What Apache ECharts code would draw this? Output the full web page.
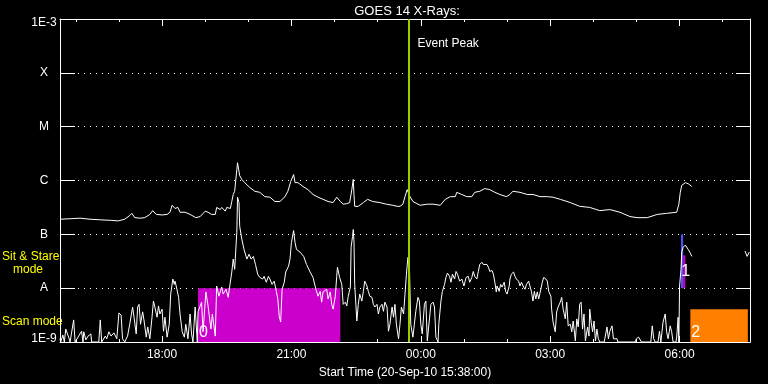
<!DOCTYPE html>
<html><head><meta charset="utf-8">
<script src="https://cdn.jsdelivr.net/npm/echarts@6/dist/echarts.min.js"></script>
<style>html,body{margin:0;padding:0;background:#000}#c{width:768px;height:384px}</style>
</head><body><div id="c"></div>
<script>
// time = minutes since 2010-09-20 00:00 ; value = log10(flux W/m^2)
const axisStart = 938;   // 15:38
const axisEnd = 1898;    // 07:38 next day
const hourTicks = [960,1020,1080,1140,1200,1260,1320,1380,1440,1500,1560,1620,1680,1740,1800,1860];
const majorTicks = [1080,1260,1440,1620,1800];
const classLevels = {'-3':'1E-3','-4':'X','-5':'M','-6':'C','-7':'B','-8':'A','-9':'1E-9'};
const eventPeakTime = 1423.5;

const longTimes = [938,952,966,980,994,1008,1019,1028,1035,1038,1042,1049,1056,1063,1067,1072,1080,1087,1091,1094,1095,1098,1102,1105,1112,1119,1127,1133,1140,1144,1149,1154,1156,1161,1163,1168,1170,1175,1177,1179,1181,1184,1185,1186,1188,1191,1195,1202,1209,1216,1223,1230,1237,1244,1251,1255,1259,1263,1265,1269,1276,1283,1290,1297,1304,1311,1318,1323,1328,1332,1337,1341,1344,1346,1347,1348,1353,1360,1366,1373,1383,1392,1401,1407,1411,1415,1418,1421,1422,1425,1429,1439,1449,1457,1467,1474,1481,1488,1490,1497,1504,1511,1515,1522,1529,1536,1543,1550,1559,1564,1568,1578,1588,1596,1606,1616,1624,1634,1648,1661,1675,1689,1703,1717,1731,1741,1755,1769,1782,1796,1799,1801,1803,1808,1812,1817];
const longLog = [-6.72,-6.71,-6.70,-6.72,-6.73,-6.74,-6.75,-6.72,-6.65,-6.61,-6.69,-6.70,-6.69,-6.63,-6.56,-6.63,-6.64,-6.63,-6.59,-6.46,-6.43,-6.52,-6.50,-6.59,-6.59,-6.63,-6.69,-6.67,-6.57,-6.59,-6.63,-6.63,-6.50,-6.54,-6.50,-6.57,-6.50,-6.52,-6.39,-6.26,-6.20,-5.80,-5.67,-5.70,-5.91,-5.98,-6.04,-6.13,-6.20,-6.22,-6.30,-6.31,-6.39,-6.39,-6.30,-6.20,-6.02,-5.89,-6.04,-6.04,-6.11,-6.17,-6.26,-6.31,-6.35,-6.39,-6.41,-6.31,-6.39,-6.44,-6.43,-6.41,-6.17,-5.98,-6.26,-6.48,-6.48,-6.41,-6.35,-6.39,-6.41,-6.44,-6.46,-6.48,-6.48,-6.44,-6.30,-6.17,-6.20,-6.30,-6.39,-6.46,-6.44,-6.44,-6.46,-6.35,-6.30,-6.30,-6.22,-6.26,-6.30,-6.30,-6.22,-6.20,-6.15,-6.17,-6.22,-6.26,-6.30,-6.26,-6.20,-6.22,-6.26,-6.26,-6.30,-6.30,-6.31,-6.35,-6.41,-6.48,-6.50,-6.56,-6.54,-6.59,-6.67,-6.69,-6.69,-6.63,-6.61,-6.59,-6.44,-6.22,-6.09,-6.04,-6.06,-6.11];

const shortChannel = [[938,-8.94],[939,-9],[942,-8.87],[944,-9],[946,-8.76],[948,-8.76],[950,-8.91],[952,-9],[957,-8.59],[959,-9],[968,-8.80],[970,-9],[971,-8.81],[974,-8.96],[977,-8.89],[981,-8.85],[982,-9],[992,-9],[994,-8.59],[996,-9],[1001,-8.89],[1003,-8.94],[1006,-8.81],[1009,-8.89],[1013,-8.83],[1017,-8.94],[1020,-8.46],[1023,-8.50],[1025,-8.94],[1028,-9],[1032,-8.89],[1035,-8.67],[1039,-8.35],[1041,-8.54],[1044,-8.85],[1046,-8.35],[1048,-8.30],[1050,-8.67],[1053,-8.44],[1055,-8.61],[1058,-8.91],[1060,-8.72],[1063,-8.94],[1066,-8.54],[1068,-8.24],[1070,-8.35],[1073,-8.54],[1075,-8.33],[1077,-8.48],[1080,-8.39],[1082,-8.80],[1084,-8.54],[1087,-8.91],[1090,-8.67],[1092,-8.11],[1095,-7.83],[1097,-7.93],[1098,-7.87],[1100,-7.98],[1103,-8.17],[1105,-8.48],[1108,-8.81],[1111,-8.91],[1113,-8.67],[1116,-8.94],[1119,-8.48],[1121,-8.85],[1123,-9],[1126,-8.35],[1129,-9],[1130,-8.44],[1135,-8.26],[1137,-8.81],[1141,-8.07],[1144,-8.33],[1148,-8.76],[1150,-8.48],[1154,-8.89],[1156,-7.96],[1159,-8.15],[1163,-7.98],[1165,-8.11],[1169,-8.02],[1172,-8.17],[1174,-7.98],[1177,-7.70],[1179,-7.46],[1181,-7.65],[1184,-6.96],[1185,-6.31],[1187,-6.41],[1188,-6.85],[1191,-7.09],[1194,-7.28],[1198,-7.46],[1201,-7.37],[1204,-7.46],[1207,-7.41],[1210,-7.56],[1213,-7.74],[1216,-7.80],[1220,-7.83],[1222,-7.78],[1225,-7.89],[1228,-7.78],[1230,-7.83],[1233,-7.93],[1236,-7.87],[1239,-8.06],[1241,-8.20],[1243,-8.52],[1245,-8.63],[1247,-8.02],[1250,-7.89],[1252,-7.70],[1256,-7.59],[1258,-7.46],[1260,-7.15],[1263,-6.93],[1265,-7.15],[1267,-7.28],[1272,-7.33],[1277,-7.41],[1281,-7.56],[1286,-7.70],[1290,-7.80],[1294,-8.02],[1297,-8.15],[1300,-8.06],[1302,-8.26],[1304,-8.07],[1309,-8.02],[1311,-8.20],[1314,-8.07],[1316,-8.30],[1318,-8.39],[1321,-8.15],[1323,-7.78],[1324,-7.61],[1327,-7.80],[1330,-7.93],[1332,-8.30],[1335,-8.26],[1337,-8.33],[1339,-8.15],[1342,-7.98],[1343,-7.24],[1345,-7.04],[1346,-6.91],[1347,-7.13],[1348,-7.93],[1351,-8.61],[1353,-8.30],[1355,-8.11],[1358,-8.24],[1360,-8.06],[1362,-7.87],[1365,-7.96],[1367,-8.06],[1369,-8.15],[1372,-8.17],[1374,-8.30],[1376,-8.35],[1379,-8.30],[1381,-8.48],[1383,-8.35],[1386,-8.30],[1388,-8.43],[1390,-8.26],[1393,-8.35],[1395,-8.80],[1397,-8.67],[1400,-8.35],[1402,-8.54],[1404,-8.30],[1406,-8.67],[1409,-8.94],[1411,-8.67],[1413,-8.35],[1416,-8.48],[1418,-8.11],[1420,-7.74],[1422,-7.43],[1424,-7.50],[1426,-8.67],[1429,-8.91],[1431,-8.67],[1433,-8.43],[1436,-8.17],[1438,-8.24],[1440,-8.67],[1442,-8.85],[1445,-8.30],[1447,-8.24],[1449,-8.98],[1451,-9],[1454,-8.30],[1457,-8.26],[1459,-8.35],[1461,-8.91],[1464,-9],[1465,-8.67],[1468,-8.24],[1470,-8.06],[1473,-7.93],[1475,-7.80],[1477,-7.72],[1480,-7.78],[1482,-7.89],[1484,-7.74],[1487,-7.83],[1489,-7.69],[1491,-7.74],[1494,-7.87],[1497,-7.83],[1500,-7.96],[1503,-7.80],[1506,-7.78],[1508,-7.89],[1511,-7.80],[1513,-7.69],[1515,-7.78],[1518,-7.83],[1520,-7.69],[1522,-7.56],[1525,-7.52],[1527,-7.56],[1532,-7.56],[1534,-7.61],[1536,-7.69],[1539,-7.67],[1541,-7.74],[1543,-7.89],[1545,-8.07],[1546,-7.96],[1549,-8.06],[1551,-7.93],[1553,-7.98],[1556,-7.89],[1558,-8.06],[1560,-8.11],[1563,-7.96],[1564,-7.83],[1566,-7.74],[1569,-7.70],[1571,-7.78],[1573,-7.83],[1576,-7.87],[1578,-7.96],[1580,-7.89],[1583,-7.98],[1585,-8.02],[1587,-7.93],[1590,-7.87],[1592,-7.89],[1594,-8.07],[1596,-8.24],[1598,-8.06],[1600,-8.20],[1602,-8.07],[1604,-8.20],[1607,-8.02],[1609,-7.89],[1611,-7.80],[1614,-7.83],[1616,-7.87],[1618,-8.06],[1621,-8.15],[1622,-8.39],[1624,-8.63],[1627,-8.81],[1629,-8.44],[1631,-8.35],[1634,-8.26],[1636,-8.17],[1638,-8.39],[1641,-8.57],[1643,-8.26],[1645,-8.70],[1648,-8.67],[1650,-8.81],[1652,-8.61],[1655,-8.98],[1657,-8.57],[1659,-8.72],[1661,-8.30],[1663,-8.26],[1665,-8.76],[1667,-8.48],[1669,-8.98],[1672,-8.72],[1674,-8.89],[1675,-8.39],[1677,-8.63],[1679,-8.81],[1681,-8.61],[1683,-8.98],[1685,-8.76],[1687,-8.94],[1689,-9],[1695,-9],[1696,-8.94],[1699,-8.72],[1701,-8.94],[1703,-8.80],[1706,-8.70],[1708,-8.94],[1710,-8.91],[1713,-8.94],[1714,-9],[1738,-9],[1740,-8.94],[1743,-8.91],[1745,-8.94],[1747,-9],[1760,-9],[1762,-8.70],[1764,-8.94],[1766,-9],[1770,-9],[1772,-8.80],[1774,-9],[1776,-9],[1777,-8.63],[1780,-8.48],[1782,-8.81],[1784,-8.94],[1787,-8.70],[1789,-8.81],[1791,-9],[1795,-9],[1796,-8.91],[1798,-8.54],[1799,-9],[1800,-7.96],[1802,-7.65],[1803,-7.33],[1805,-7.24],[1808,-7.20],[1810,-7.22],[1812,-7.28],[1815,-7.35],[1817,-7.41],[1850,'-'],[1891,-7.31],[1894,-7.41],[1897,-7.33]];

// observation windows (start, end, low, high, label)
const winStart = [1130, 1802, 1805, 1815];
const winEnd   = [1328, 1805, 1808, 1895];
const winLow   = [-9, -8, -8, -9];
const winHigh  = [-8, -7, -7.39, -8.39];
const winLabel = ['0', '', '1', '2'];
const winColor = ['#cc00cc', '#5050ff', '#cc00cc', '#ff8000'];
const winLabelOffset = [[0,0],[0,0],[-3,-8],[0,0]];

const FONT = 'Liberation Sans';
const longData = longTimes.map((t, i) => [t, longLog[i]]);
function hhmm(v){ const h = Math.floor(v/60)%24, m = Math.round(v%60); return String(h).padStart(2,'0')+':'+String(m).padStart(2,'0'); }

const areas = winStart.map((s, i) => [
  { xAxis: s, yAxis: winLow[i], itemStyle: { color: winColor[i], opacity: 1 },
    label: { show: winLabel[i] !== '', formatter: winLabel[i], position: 'insideBottomLeft', distance: 1,
             offset: winLabelOffset[i], color: '#fff', fontSize: 16, fontFamily: FONT } },
  { xAxis: winEnd[i], yAxis: winHigh[i] }
]);

const chart = echarts.init(document.getElementById('c'), null, { renderer: 'canvas' });
const white = '#ffffff';
const baseX = { type: 'value', min: axisStart, max: axisEnd, gridIndex: 0, offset: 0, splitLine: { show: false } };
chart.setOption({
  backgroundColor: '#000',
  animation: false,
  title: { text: 'GOES 14 X-Rays:', left: 402, top: 0, textAlign: 'center',
           textStyle: { color: white, fontSize: 13, fontWeight: 'normal', fontFamily: FONT } },
  grid: { left: 60, right: 18, top: 19, bottom: 41, containLabel: false },
  xAxis: [
    Object.assign({}, baseX, { position: 'bottom',
      name: 'Start Time (20-Sep-10 15:38:00)', nameLocation: 'middle', nameGap: 25,
      nameTextStyle: { color: white, fontSize: 12, fontFamily: FONT },
      axisLine: { show: true, lineStyle: { color: white, width: 1 } },
      axisTick: { show: true, inside: true, length: 6, customValues: majorTicks, lineStyle: { color: white } },
      axisLabel: { show: true, customValues: majorTicks, formatter: hhmm, color: white, fontSize: 12, fontFamily: FONT, margin: 7 } }),
    Object.assign({}, baseX, { position: 'bottom',
      axisLine: { show: false },
      axisTick: { show: true, inside: true, length: 3, customValues: hourTicks, lineStyle: { color: white } },
      axisLabel: { show: false } }),
    Object.assign({}, baseX, { position: 'top',
      axisLine: { show: true, lineStyle: { color: white, width: 1 } },
      axisTick: { show: true, inside: true, length: 7, customValues: majorTicks, lineStyle: { color: white } },
      axisLabel: { show: false } }),
    Object.assign({}, baseX, { position: 'top',
      axisLine: { show: false },
      axisTick: { show: true, inside: true, length: 3, customValues: hourTicks, lineStyle: { color: white } },
      axisLabel: { show: false } })
  ],
  yAxis: [
    { type: 'value', min: -9, max: -3, interval: 1, position: 'left', offset: 0,
      axisLine: { show: true, lineStyle: { color: white, width: 1 } },
      axisTick: { show: true, inside: true, length: 15, lineStyle: { color: white } },
      splitLine: { show: true, lineStyle: { color: white, width: 1, type: [1, 5] } },
      axisLabel: { show: true, align: 'center', margin: 16, color: white, fontSize: 12, fontFamily: FONT,
        formatter: v => { const k = String(Math.round(v)); const t = classLevels[k] || '';
          if (k === '-3') return '{top|' + t + '}'; if (k === '-9') return '{bot|' + t + '}'; return t; },
        rich: { top: { color: white, fontSize: 12, fontFamily: FONT, padding: [8,0,0,0] },
                bot: { color: white, fontSize: 12, fontFamily: FONT, padding: [0,0,7,0] } } } },
    { type: 'value', min: -9, max: -3, interval: 1, position: 'right', offset: 0,
      axisLine: { show: true, lineStyle: { color: white, width: 1 } },
      axisTick: { show: true, inside: true, length: 14, lineStyle: { color: white } },
      splitLine: { show: false }, axisLabel: { show: false } }
  ],
  series: [
    { name: 'windows', type: 'line', data: [], z: 1, silent: true,
      markArea: { silent: true, data: areas } },
    { name: 'GOES 1-8 A', type: 'line', data: longData, z: 3, symbol: 'none', silent: true,
      lineStyle: { color: white, width: 1 } },
    { name: 'GOES 0.5-4 A', type: 'line', data: shortChannel, z: 3, symbol: 'none', silent: true, connectNulls: false,
      lineStyle: { color: white, width: 1 } },
    { name: 'event', type: 'line', data: [], z: 5, silent: true,
      markLine: { silent: true, symbol: ['none','none'], label: { show: false },
        lineStyle: { color: '#9acd00', width: 2, type: 'solid' },
        data: [{ xAxis: eventPeakTime }] },
      markPoint: { silent: true, symbol: 'circle', symbolSize: 1, itemStyle: { color: 'rgba(0,0,0,0)' },
        label: { show: true, position: 'right', distance: 8, formatter: 'Event Peak', color: white, fontSize: 12, fontFamily: FONT },
        data: [{ coord: [eventPeakTime, -3.46] }] } }
  ],
  graphic: [
    { type: 'text', left: 2, top: 251, style: { text: 'Sit & Stare', fill: '#ffff00', font: '12px "' + FONT + '"' } },
    { type: 'text', left: 13, top: 264, style: { text: 'mode', fill: '#ffff00', font: '12px "' + FONT + '"' } },
    { type: 'text', left: 2, top: 316, style: { text: 'Scan mode', fill: '#ffff00', font: '12px "' + FONT + '"' } }
  ]
});
</script>
</body></html>
